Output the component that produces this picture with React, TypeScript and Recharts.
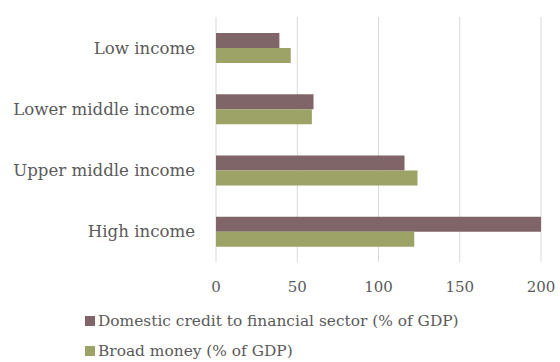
import { Bar, BarChart, CartesianGrid, Legend, XAxis, YAxis } from 'recharts';

const CATEGORIES = ['Low income', 'Lower middle income', 'Upper middle income', 'High income'];
const DOMESTIC_CREDIT = [39, 60, 116, 200];
const BROAD_MONEY = [46, 59, 124, 122];
const X_TICKS = [0, 50, 100, 150, 200];

const SERIES = [
  { key: 'credit', name: 'Domestic credit to financial sector (% of GDP)', color: '#7f6468' },
  { key: 'money', name: 'Broad money (% of GDP)', color: '#9da266' },
];

const FONT = '"DejaVu Serif", serif';
const TEXT = '#5a5a5a';

const data = CATEGORIES.map((name, i) => ({
  name,
  credit: DOMESTIC_CREDIT[i],
  money: BROAD_MONEY[i],
}));

function LegendList() {
  return (
    <div style={{ fontFamily: FONT, fontSize: 15.4, color: TEXT }}>
      {SERIES.map((s) => (
        <div key={s.key} style={{ display: 'flex', alignItems: 'center', height: 30 }}>
          <span style={{ width: 10, height: 10, background: s.color, marginRight: 3 }} />
          {s.name}
        </div>
      ))}
    </div>
  );
}

export default function App() {
  return (
    <div style={{ position: 'absolute', left: 0, top: 0, background: '#fff' }}>
      <BarChart
        width={560}
        height={362}
        data={data}
        layout="vertical"
        margin={{ top: 17, right: 19, left: 0, bottom: 70 }}
        barGap={0}
        barCategoryGap="26%"
        style={{ fontFamily: FONT }}
      >
        <CartesianGrid horizontal={false} stroke="#d9d9d9" />
        <XAxis
          type="number"
          domain={[0, 200]}
          ticks={X_TICKS}
          axisLine={false}
          tickLine={false}
          tickMargin={13}
          tick={{ fill: TEXT, fontSize: 15, fontFamily: FONT }}
        />
        <YAxis
          type="category"
          dataKey="name"
          width={216}
          axisLine={false}
          tickLine={false}
          tickMargin={15}
          tick={{ fill: TEXT, fontSize: 16.6, fontFamily: FONT }}
        />
        {SERIES.map((s) => (
          <Bar key={s.key} dataKey={s.key} name={s.name} fill={s.color} isAnimationActive={false} />
        ))}
        <Legend
          layout="horizontal"
          verticalAlign="middle"
          align="center"
          content={<LegendList />}
          wrapperStyle={{ left: 85, top: 306, width: 'auto' }}
        />
      </BarChart>
    </div>
  );
}
